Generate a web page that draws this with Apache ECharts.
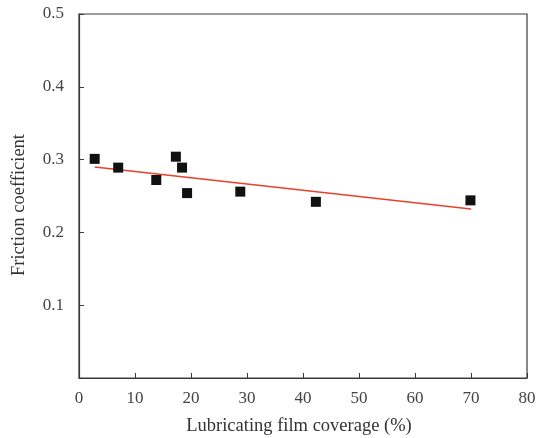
<!DOCTYPE html>
<html>
<head>
<meta charset="utf-8">
<script src="https://cdn.jsdelivr.net/npm/echarts@6/dist/echarts.min.js"></script>
<style>
  html, body { margin: 0; padding: 0; background: #fff; }
  #chart { width: 541px; height: 438px; }
</style>
</head>
<body>
<div id="chart"></div>
<script>
// measured points (coverage %, friction coefficient)
const coverage = [2.8, 7.0, 13.8, 17.3, 18.4, 19.3, 28.8, 42.3, 69.9]
const friction = [0.301, 0.289, 0.272, 0.304, 0.289, 0.254, 0.256, 0.242, 0.244]

// linear fit end points
const fitX = [2.8, 70]
const fitY = [0.290, 0.232]

const xTicks = [0, 10, 20, 30, 40, 50, 60, 70, 80]
const yTicks = [0, 0.1, 0.2, 0.3, 0.4, 0.5]

const axisColor = '#3a3a3a'
const font = 'Liberation Serif'

const chart = echarts.init(document.getElementById('chart'))

const option = {
  animation: false,
  grid: {
    left: 79,
    right: 14,
    top: 14,
    bottom: 60,
    outerBoundsMode: 'none',
    show: true,
    borderColor: axisColor,
    borderWidth: 1.2
  },
  xAxis: {
    type: 'value',
    min: xTicks[0],
    max: xTicks[xTicks.length - 1],
    interval: 10,
    name: 'Lubricating film coverage (%)',
    nameLocation: 'middle',
    nameGap: 39,
    nameTextStyle: { fontFamily: font, fontSize: 18.5, color: '#333', padding: [0, 8, 0, 0] },
    axisLine: { lineStyle: { color: axisColor, width: 1.2 } },
    axisTick: { inside: true, length: 5, lineStyle: { color: axisColor } },
    axisLabel: { fontFamily: font, fontSize: 17, color: '#444', margin: 12 },
    splitLine: { show: false }
  },
  yAxis: {
    type: 'value',
    min: yTicks[0],
    max: yTicks[yTicks.length - 1],
    interval: 0.1,
    name: 'Friction coefficient',
    nameLocation: 'middle',
    nameGap: 50,
    nameTextStyle: { fontFamily: font, fontSize: 18.5, color: '#333', padding: [0, 18, 0, 0] },
    axisLine: { lineStyle: { color: axisColor, width: 1.2 } },
    axisTick: { inside: true, length: 5, lineStyle: { color: axisColor } },
    axisLabel: {
      fontFamily: font,
      fontSize: 17,
      color: '#444',
      margin: 15,
      formatter: v => (v === 0 ? '' : v.toFixed(1))
    },
    splitLine: { show: false }
  },
  series: [
    {
      type: 'line',
      data: fitX.map((x, i) => [x, fitY[i]]),
      symbol: 'none',
      lineStyle: { color: '#e8402e', width: 1.5 },
      z: 2
    },
    {
      type: 'scatter',
      data: coverage.map((x, i) => [x, friction[i]]),
      symbol: 'rect',
      symbolSize: 10,
      itemStyle: { color: '#111', opacity: 1 },
      z: 3
    }
  ]
}

chart.setOption(option)
</script>
</body>
</html>
